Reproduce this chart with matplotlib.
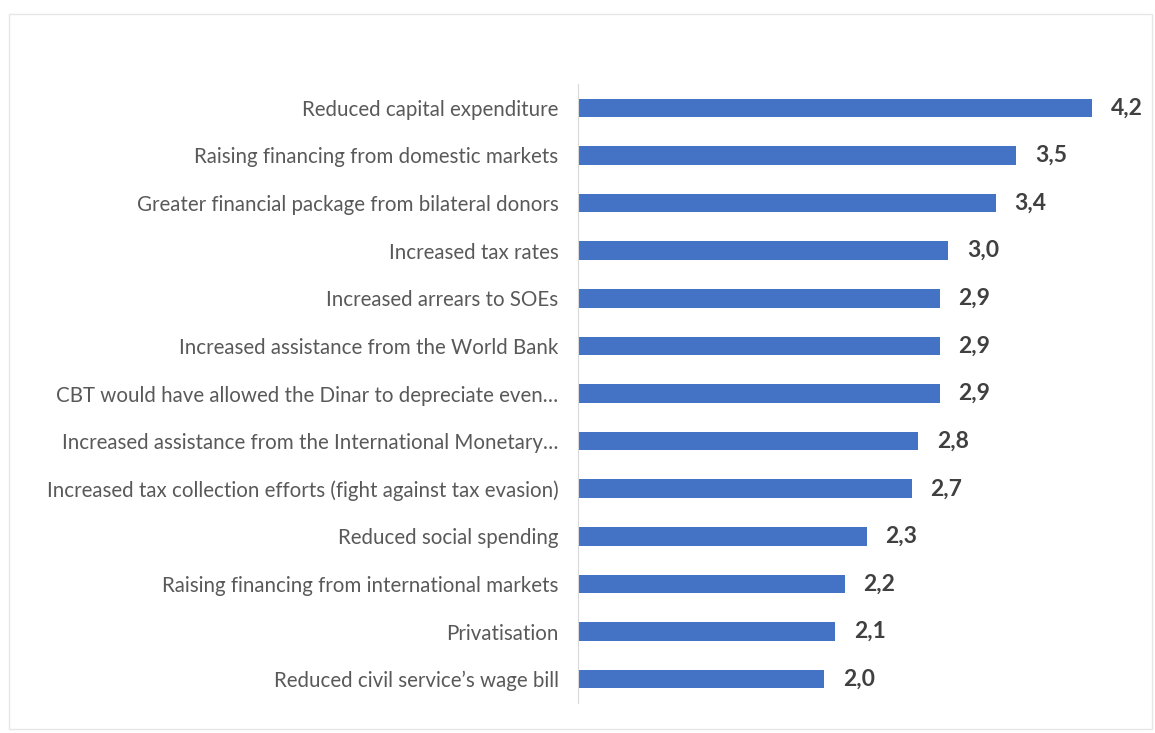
import matplotlib.pyplot as plt
from matplotlib.patches import Rectangle

categories = [
    "Reduced capital expenditure",
    "Raising financing from domestic markets",
    "Greater financial package from bilateral donors",
    "Increased tax rates",
    "Increased arrears to SOEs",
    "Increased assistance from the World Bank",
    "CBT would have allowed the Dinar to depreciate even\u2026",
    "Increased assistance from the International Monetary\u2026",
    "Increased tax collection efforts (fight against tax evasion)",
    "Reduced social spending",
    "Raising financing from international markets",
    "Privatisation",
    "Reduced civil service\u2019s wage bill",
]
values = [4.22, 3.60, 3.43, 3.04, 2.97, 2.97, 2.97, 2.79, 2.74, 2.37, 2.19, 2.11, 2.02]
value_labels = ["4,2", "3,5", "3,4", "3,0", "2,9", "2,9", "2,9",
                "2,8", "2,7", "2,3", "2,2", "2,1", "2,0"]

plt.rcParams["font.family"] = ["Lato", "DejaVu Sans"]

fig = plt.figure(figsize=(11.55, 7.33), dpi=100)
fig.patches.append(Rectangle((9 / 1155, 4 / 733), 1143 / 1155, 715 / 733,
                             transform=fig.transFigure, fill=False,
                             edgecolor="#e6e6e6", linewidth=1))

ax = fig.add_axes([0.5004, 0.0409, 0.4745, 0.8445])

y = range(len(categories))
ax.barh(y, values, height=0.39, color="#4472c4")

for yi, v, lab in zip(y, values, value_labels):
    ax.text(v + 0.155, yi, lab, va="center", ha="left",
            fontsize=16.5, fontweight="bold", color="#404040")

ax.set_xlim(0, 4.5)
ax.set_ylim(len(categories) - 0.5, -0.5)
ax.set_yticks(list(y))
ax.set_yticklabels(categories, fontsize=14.8, color="#595959")
ax.tick_params(axis="y", length=0, pad=14)
ax.set_xticks([])

for side in ["top", "right", "bottom"]:
    ax.spines[side].set_visible(False)
ax.spines["left"].set_color("#d9d9d9")

plt.savefig("out.png", dpi=100)
